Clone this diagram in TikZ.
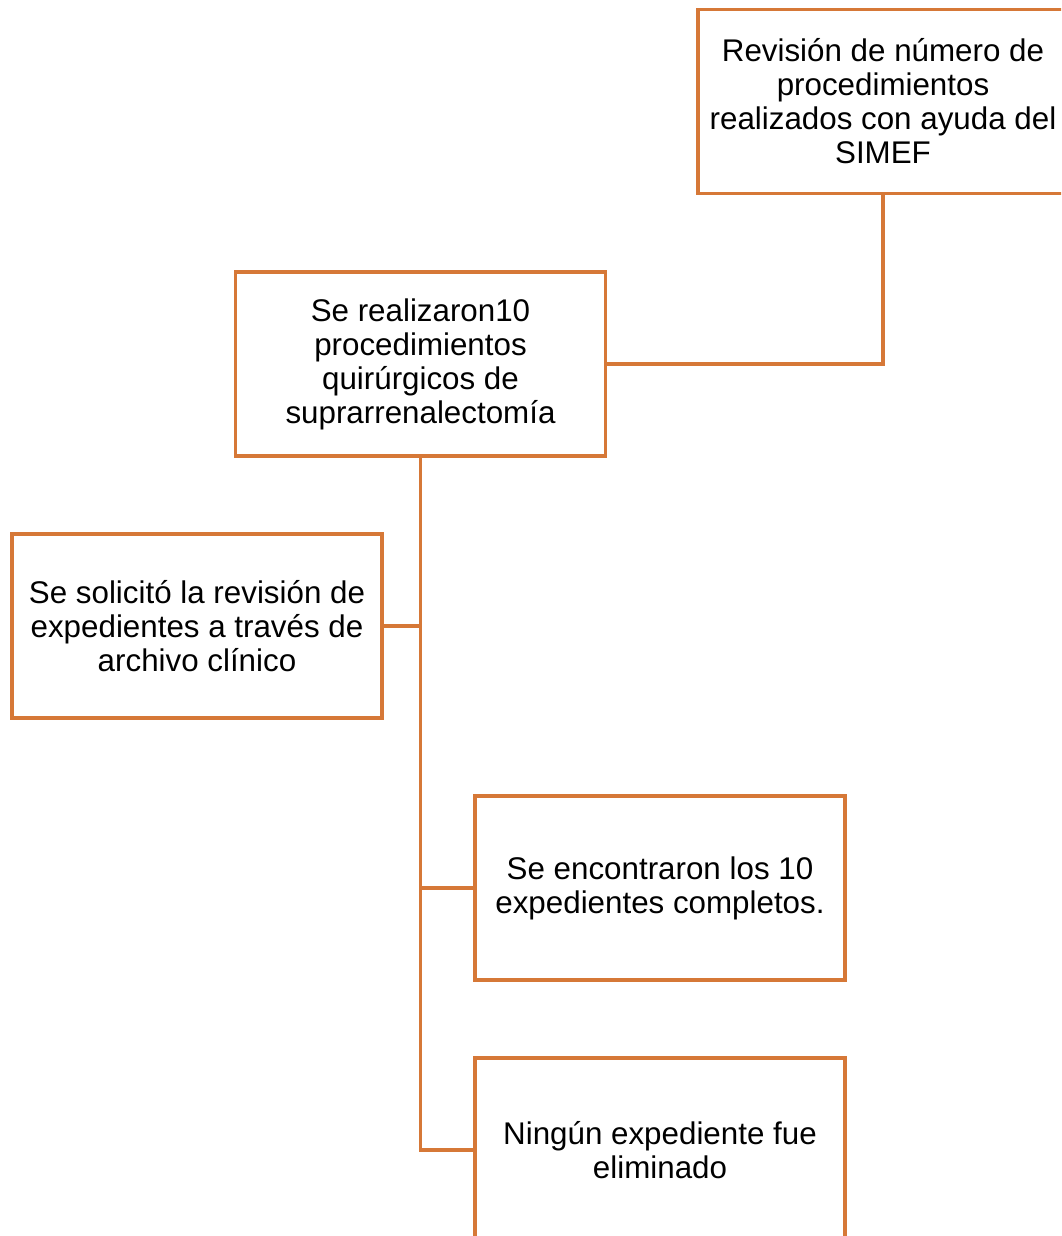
\documentclass[tikz,border=0pt]{standalone}
\usepackage{fontspec}
\setmainfont{Liberation Sans}
\definecolor{boxorange}{RGB}{214,120,55}
\begin{document}
\begin{tikzpicture}[x=0.75pt,y=-0.75pt,
  box/.style={draw=boxorange, line width=2.4pt, fill=white, rectangle,
    minimum width=277.5pt, minimum height=138pt, outer sep=0pt, inner sep=0pt,
    align=center, font=\fontsize{23.5}{25.5}\selectfont},
  link/.style={draw=boxorange, line width=2.4pt}]
\useasboundingbox (0,0) rectangle (1061,1236);
\clip (0,0) rectangle (1061,1236);
\node[box] (b1) at (883,101.5) {Revisión de número de\\procedimientos\\realizados con ayuda del\\SIMEF};
\node[box] (b2) at (420.5,364) {Se realizaron10\\procedimientos\\quirúrgicos de\\suprarrenalectomía};
\node[box] (b3) at (197,626) {Se solicitó la revisión de\\expedientes a través de\\archivo clínico};
\node[box] (b4) at (660,888) {Se encontraron los 10\\expedientes completos.};
\node[box] (b5) at (660,1150) {Ningún expediente fue\\eliminado};
\draw[link] (b1.south) |- (b2.east);
\draw[link] (b2.south) |- (b3.east);
\draw[link] (b2.south) |- (b4.west);
\draw[link] (b2.south) |- (b5.west);
\end{tikzpicture}
\end{document}
